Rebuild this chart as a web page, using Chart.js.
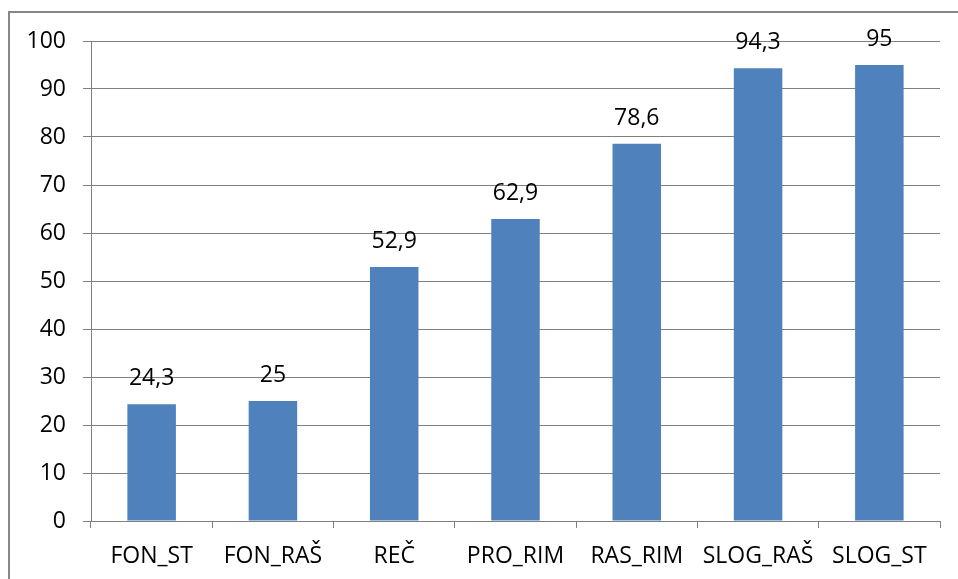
<!DOCTYPE html>
<html>
<head>
<meta charset="utf-8">
<script src="https://cdn.jsdelivr.net/npm/chart.js@4"></script>
<style>
  html, body { margin: 0; padding: 0; background: #fff; overflow: hidden; }
  #wrap { position: relative; width: 958px; height: 579px; }
  #frame { position: absolute; left: 8px; top: 11px; width: 1000px; height: 1000px; border: 2px solid #878787; box-sizing: border-box; }
  canvas { position: absolute; left: 0; top: 0; }
</style>
</head>
<body>
<div id="wrap">
  <div id="frame"></div>
  <canvas id="chart" width="958" height="579"></canvas>
</div>
<script>
const categories = ['FON_ST', 'FON_RAŠ', 'REČ', 'PRO_RIM', 'RAS_RIM', 'SLOG_RAŠ', 'SLOG_ST'];
const values = [24.3, 25, 52.9, 62.9, 78.6, 94.3, 95];
const yTicks = [0, 10, 20, 30, 40, 50, 60, 70, 80, 90, 100];

const gridColor = '#808080';
const fontFamily = '"Open Sans", sans-serif';

// labels over bars, decimal comma
const barLabels = {
    id: 'barLabels',
    afterDatasetsDraw(chart) {
        const ctx = chart.ctx;
        const meta = chart.getDatasetMeta(0);
        ctx.save();
        ctx.font = '23px ' + fontFamily;
        ctx.fillStyle = '#000';
        ctx.textAlign = 'center';
        ctx.textBaseline = 'alphabetic';
        meta.data.forEach((bar, i) => {
            const txt = String(values[i]).replace('.', ',');
            ctx.fillText(txt, bar.x, bar.y - 19);
        });
        ctx.restore();
    }
};

Chart.defaults.font.family = fontFamily;
Chart.defaults.font.size = 23;
Chart.defaults.color = '#000';

new Chart(document.getElementById('chart'), {
    type: 'bar',
    data: {
        labels: categories,
        datasets: [{
            data: values,
            backgroundColor: '#4F81BD',
            borderWidth: 0,
            barPercentage: 0.4,
            categoryPercentage: 1.0
        }]
    },
    options: {
        responsive: false,
        animation: false,
        layout: { padding: { left: 0, top: 41, right: 18, bottom: 0 } },
        plugins: {
            legend: { display: false },
            tooltip: { enabled: false }
        },
        scales: {
            x: {
                offset: true,
                grid: {
                    display: true,
                    drawOnChartArea: false,
                    drawTicks: true,
                    tickLength: 7,
                    color: gridColor,
                    offset: true
                },
                border: { display: true, color: gridColor, width: 1 },
                ticks: { padding: 15, maxRotation: 0, autoSkip: false },
                afterFit: s => { s.height = 58; }
            },
            y: {
                min: 0,
                max: 100,
                afterBuildTicks: s => { s.ticks = yTicks.map(v => ({ value: v })); },
                grid: {
                    color: gridColor,
                    lineWidth: 1,
                    drawTicks: true,
                    tickLength: 8
                },
                border: { display: true, color: gridColor, width: 1 },
                ticks: { padding: 17 },
                afterFit: s => { s.width = 91; }
            }
        }
    },
    plugins: [barLabels]
});
</script>
</body>
</html>
